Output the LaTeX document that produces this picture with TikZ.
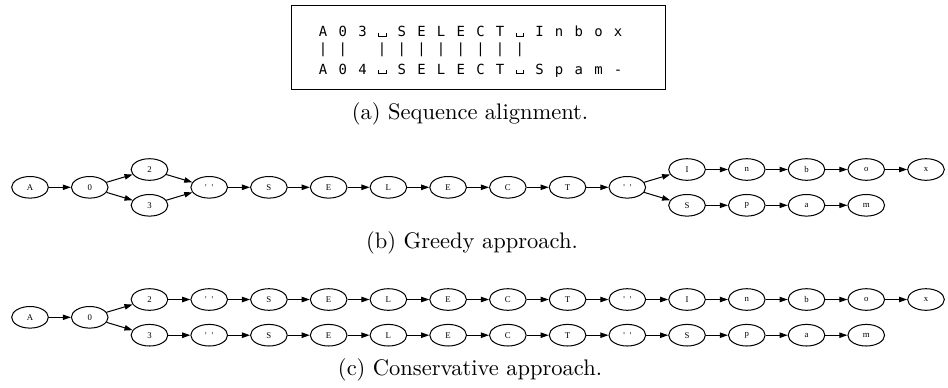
\documentclass[tikz,border=0pt]{standalone}
\usepackage{fontspec}
\usetikzlibrary{arrows.meta}
\usetikzlibrary{positioning, shapes.geometric}

\newfontfamily\seqfont{DejaVu Sans Mono}
\newfontfamily\gvfont{Liberation Serif}
\newcommand{\sqc}[1]{\makebox[8.74pt]{#1}}
\newcommand{\vsp}{\rule{0.35pt}{1.6pt}\rule{3pt}{0.35pt}\rule{0.35pt}{1.6pt}}
\newcommand{\seqrow}[1]{\foreach \ch in {#1}{\sqc{\ch}}}
\newcommand{\qq}{\textquotesingle\hspace{2.2pt}\textquotesingle}

\begin{document}
\begin{tikzpicture}[x=0.4444pt, y=-0.4444pt,
	tok/.style={ellipse, draw, line width=0.45pt, minimum width=16.3pt, minimum height=9.6pt, inner sep=0pt, font=\gvfont\fontsize{3.9}{4}\selectfont},
	edge/.style={line width=0.45pt, -{Triangle[length=3.6pt, width=2.4pt]}},
	seq/.style={anchor=base west, inner sep=0pt, font=\seqfont\fontsize{6.2}{7}\selectfont}]
	\useasboundingbox (0,0) rectangle (948,387);

	% --- (a) alignment ---
	\node[draw, line width=0.45pt, minimum width=166.2pt, minimum height=37.15pt] (frame) at (478, 47.5) {};
	\node[seq] (upper) at (312.9, 36.7) {\seqrow{A,0,3,\vsp,S,E,L,E,C,T,\vsp,I,n,b,o,x}};
	\node[seq] (match) at (312.9, 53.5) {\seqrow{|,|,\relax,|,|,|,|,|,|,|,|}};
	\node[seq] (lower) at (312.9, 74) {\seqrow{A,0,4,\vsp,S,E,L,E,C,T,\vsp,S,p,a,m,-}};
	\node (capa) at (470, 114) {(a) Sequence alignment.};

	% --- (b) greedy ---
	\foreach \t [count=\k from 0] in {A,0} \node[tok] (b\k) at (30+59.73*\k, 187.3) {\t};
	\node[tok] (bt2) at (149.5, 169.5) {2};
	\node[tok] (bb2) at (149.5, 205.3) {3};
	\foreach \t [count=\k from 3] in {\qq,S,E,L,E,C,T,\qq} \node[tok] (b\k) at (30+59.73*\k, 187.3) {\t};
	\foreach \t [count=\k from 11] in {I,n,b,o,x} \node[tok] (bt\k) at (30+59.73*\k, 169.5) {\t};
	\foreach \t [count=\k from 11] in {S,p,a,m} \node[tok] (bb\k) at (30+59.73*\k, 205.3) {\t};

	\foreach \a/\b in {b0/b1, b1/bt2, b1/bb2, bt2/b3, bb2/b3, b10/bt11, b10/bb11} \draw[edge] (\a) -- (\b);
	\foreach \k in {3,...,9} {\pgfmathtruncatemacro\n{\k+1}\draw[edge] (b\k) -- (b\n);}
	\foreach \k in {11,...,14} {\pgfmathtruncatemacro\n{\k+1}\draw[edge] (bt\k) -- (bt\n);}
	\foreach \k in {11,...,13} {\pgfmathtruncatemacro\n{\k+1}\draw[edge] (bb\k) -- (bb\n);}
	\node (capb) at (472, 242.5) {(b) Greedy approach.};

	% --- (c) conservative ---
	\foreach \t [count=\k from 0] in {A,0} \node[tok] (c\k) at (30+59.73*\k, 317.3) {\t};
	\foreach \t [count=\k from 2] in {2,\qq,S,E,L,E,C,T,\qq,I,n,b,o,x} \node[tok] (ct\k) at (30+59.73*\k, 299.5) {\t};
	\foreach \t [count=\k from 2] in {3,\qq,S,E,L,E,C,T,\qq,S,p,a,m} \node[tok] (cb\k) at (30+59.73*\k, 335.2) {\t};

	\foreach \a/\b in {c0/c1, c1/ct2, c1/cb2} \draw[edge] (\a) -- (\b);
	\foreach \k in {2,...,14} {\pgfmathtruncatemacro\n{\k+1}\draw[edge] (ct\k) -- (ct\n);}
	\foreach \k in {2,...,13} {\pgfmathtruncatemacro\n{\k+1}\draw[edge] (cb\k) -- (cb\n);}
	\node (capc) at (470, 370.3) {(c) Conservative approach.};
\end{tikzpicture}
\end{document}
